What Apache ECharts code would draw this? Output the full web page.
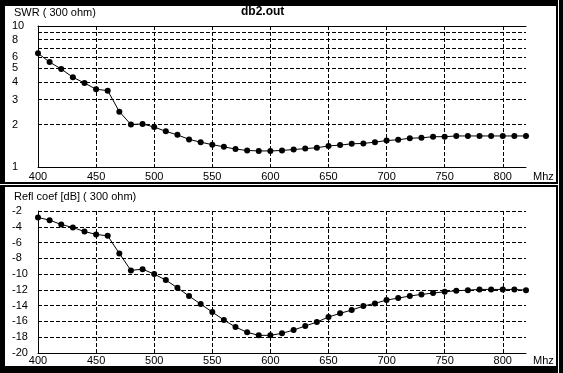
<!DOCTYPE html>
<html><head><meta charset="utf-8">
<script src="https://cdn.jsdelivr.net/npm/echarts@6/dist/echarts.min.js"></script>
<style>html,body{margin:0;padding:0;background:#000;}#c{width:563px;height:373px;}</style>
</head><body><div id="c"></div>
<script>
const freqs = [400,410,420,430,440,450,460,470,480,490,500,510,520,530,540,550,560,570,580,590,600,610,620,630,640,650,660,670,680,690,700,710,720,730,740,750,760,770,780,790,800,810,820];
const swr = [6.4,5.55,4.95,4.33,3.94,3.56,3.48,2.47,2.0,2.02,1.92,1.79,1.69,1.57,1.50,1.44,1.39,1.34,1.31,1.30,1.30,1.31,1.33,1.35,1.37,1.41,1.43,1.46,1.47,1.50,1.54,1.56,1.60,1.61,1.64,1.64,1.66,1.66,1.66,1.66,1.66,1.66,1.66];
const reflDb = [-2.82,-3.16,-3.71,-4.09,-4.6,-4.97,-5.15,-7.38,-9.53,-9.37,-10.0,-10.76,-11.73,-12.78,-13.8,-14.81,-15.82,-16.71,-17.38,-17.76,-17.76,-17.51,-17.09,-16.58,-16.08,-15.44,-14.97,-14.56,-14.05,-13.71,-13.29,-13.04,-12.78,-12.57,-12.41,-12.24,-12.11,-12.03,-11.94,-11.94,-11.94,-11.94,-12.03];
const xTicks = [400,450,500,550,600,650,700,750,800];
const swrLabels = [1,2,3,4,5,6,8,10];
const swrGrid = [1,2,3,4,5,6,7,8,9,10];
const reflTicks = [-20,-18,-16,-14,-12,-10,-8,-6,-4,-2];
const title = 'db2.out';
const swrName = 'SWR ( 300 ohm)';
const reflName = 'Refl coef [dB] ( 300 ohm)';
const unit = 'Mhz';

const FONT = "'Liberation Sans', Arial, sans-serif";
const txt = {color:'#000', fontFamily: FONT, fontSize: 11};
const dashed = {show:true, lineStyle:{color:'#000', type:[4,2], width:1}};

function xAxis(grid, margin){
  return {type:'value', gridIndex:grid, min:400, max:820,
    axisLine:{show:true, lineStyle:{color:'#000', width:1}},
    axisTick:{show:false, customValues:xTicks},
    axisLabel:Object.assign({customValues:xTicks, margin:margin}, txt),
    splitLine:dashed,
    name:unit, nameLocation:'end', nameGap:7,
    nameTextStyle:Object.assign({verticalAlign:'top', padding:[margin,0,0,0]}, txt)
  };
}
const chart = echarts.init(document.getElementById('c'), null, {renderer:'canvas'});
chart.setOption({
  animation:false,
  backgroundColor:'#000',
  graphic:[
    {type:'rect', z:-10, shape:{x:5,y:6,width:551,height:176}, style:{fill:'#fff'}},
    {type:'rect', z:-10, shape:{x:5,y:187,width:551,height:179}, style:{fill:'#fff'}},
    {type:'rect', z:-10, shape:{x:0,y:184,width:559,height:1}, style:{fill:'#fff'}},
    {type:'rect', z:-10, shape:{x:558,y:0,width:1,height:373}, style:{fill:'#fff'}},
    {type:'text', left:14, top:7, style:{text:swrName, fill:'#000', font:'11px '+FONT}},
    {type:'text', left:14, top:191, style:{text:reflName, fill:'#000', font:'11px '+FONT}},
    {type:'text', left:241, top:6, style:{text:title, fill:'#000', font:'bold 12px '+FONT}}
  ],
  grid:[
    {left:38, right:37, top:26, height:141},
    {left:38, right:37, top:211, height:142}
  ],
  xAxis:[
    xAxis(0,4),
    xAxis(1,2),
    {type:'value', gridIndex:0, min:400, max:820, position:'top',
      axisLine:{show:true, lineStyle:{color:'#000', width:1}}, axisTick:{show:false},
      axisLabel:{show:false}, splitLine:{show:false}}
  ],
  yAxis:[
    {type:'log', logBase:10, gridIndex:0, min:1, max:10,
      axisLine:{show:true, lineStyle:{color:'#000', width:1}},
      axisTick:{show:false, customValues:swrGrid},
      axisLabel:Object.assign({customValues:swrLabels, align:'left', margin:26}, txt),
      splitLine:dashed},
    {type:'value', gridIndex:1, min:-20, max:-2, interval:2,
      axisLine:{show:true, lineStyle:{color:'#000', width:1}},
      axisTick:{show:false},
      axisLabel:Object.assign({align:'left', margin:26}, txt),
      splitLine:dashed}
  ],
  series:[
    {type:'line', xAxisIndex:0, yAxisIndex:0, data:freqs.map((f,i)=>[f, swr[i]]),
      symbol:'circle', symbolSize:6, itemStyle:{color:'#000'}, lineStyle:{color:'#000', width:1}},
    {type:'line', xAxisIndex:1, yAxisIndex:1, data:freqs.map((f,i)=>[f, reflDb[i]]),
      symbol:'circle', symbolSize:6, itemStyle:{color:'#000'}, lineStyle:{color:'#000', width:1}}
  ]
});
</script></body></html>
